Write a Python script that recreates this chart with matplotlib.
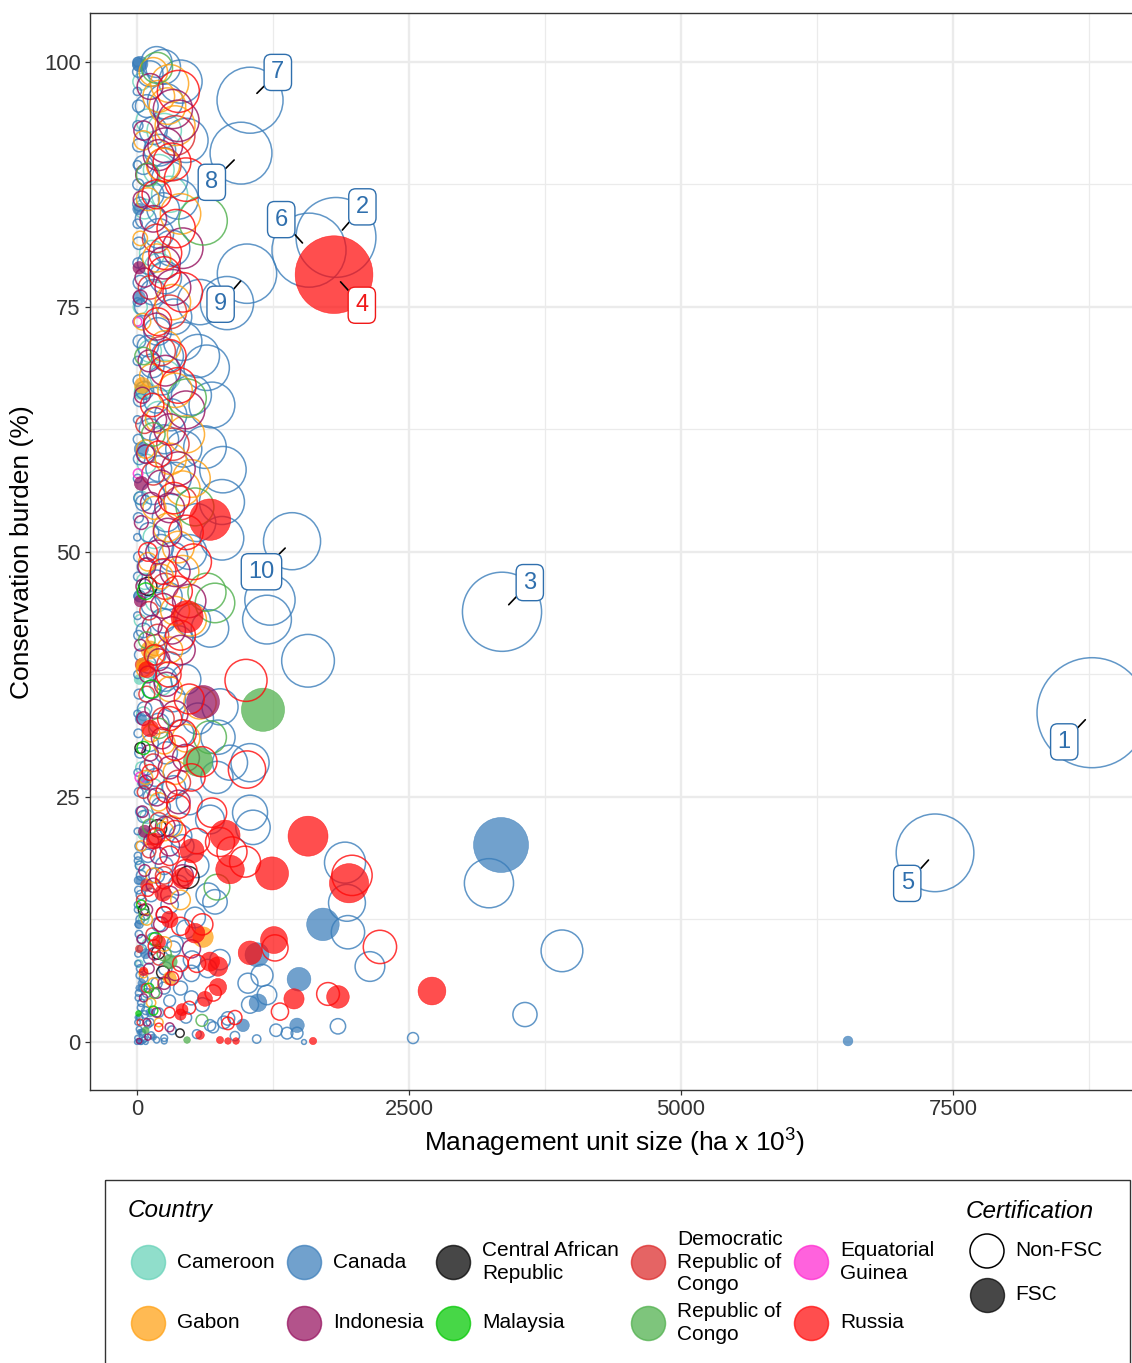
import numpy as np
import matplotlib.pyplot as plt
from matplotlib.patches import Rectangle

plt.rcParams['font.family'] = ['Liberation Sans', 'DejaVu Sans']
plt.rcParams['mathtext.fontset'] = 'custom'
plt.rcParams['mathtext.rm'] = 'Liberation Sans'

# Each management unit: (unit size in 10^3 ha, conservation burden %, FSC certified 0/1)
cameroon = [
    (40, 98.0, 0), (100, 94.0, 0), (200, 89.0, 0), (70, 85.0, 0), (140, 80.5, 0), (30, 75.0, 0),
    (120, 70.5, 0), (60, 66.5, 0), (200, 64.0, 0), (90, 59.0, 0), (40, 55.5, 0), (160, 51.5, 0),
    (70, 47.0, 0), (30, 43.0, 0), (110, 38.0, 0), (60, 33.5, 0), (40, 28.0, 0), (90, 23.0, 0),
    (30, 18.0, 0), (60, 12.5, 0), (20, 8.0, 0), (100, 4.0, 0), (40, 1.0, 0),
    (250, 93.0, 0), (300, 86.5, 0), (200, 79.0, 0), (260, 68.0, 0), (180, 45.0, 0), (220, 36.5, 0),
    (150, 26.0, 0), (100, 10.0, 0),
    (60, 21.2, 1), (40, 66.3, 1), (20, 37.0, 1),
]

canada = [
    (8778, 33.6, 0), (1829, 82.1, 0), (3355, 43.9, 0), (7335, 19.3, 0), (1581, 80.8, 0),
    (1039, 96.1, 0), (956, 90.7, 0), (1011, 78.4, 0), (1425, 51.1, 0),
    (579, 75.5, 0), (827, 75.4, 0), (560, 70.0, 0), (640, 68.8, 0), (689, 65.0, 0), (625, 60.7, 0),
    (790, 58.4, 0), (781, 55.1, 0), (781, 51.4, 0), (1222, 45.1, 0), (1195, 43.1, 0), (1572, 38.9, 0),
    (671, 42.2, 0), (763, 34.2, 0), (735, 27.0, 0), (855, 28.5, 0), (1039, 28.5, 0), (744, 31.1, 0),
    (671, 22.7, 0), (1039, 23.4, 0), (1066, 21.9, 0), (1912, 18.3, 0), (1930, 14.2, 0), (1939, 11.2, 0),
    (2141, 7.7, 0), (3235, 16.2, 0), (3906, 9.3, 0), (3566, 2.8, 0), (2537, 0.4, 0), (1847, 1.6, 0),
    (533, 12.7, 0), (653, 15.0, 0), (717, 14.3, 0), (506, 8.4, 0), (763, 8.4, 0), (1020, 6.0, 0),
    (1195, 4.8, 0), (1149, 6.8, 0), (1379, 0.9, 0), (1471, 0.9, 0), (1278, 1.2, 0), (1535, 0.0, 0),
    (836, 2.4, 0), (671, 1.7, 0), (1039, 3.8, 0),
    (180, 100, 0), (240, 99.5, 0), (120, 98.8, 0), (260, 96.0, 0), (90, 95.5, 0), (150, 93.0, 0),
    (210, 91.0, 0), (60, 89.5, 0), (300, 88.0, 0), (130, 86.5, 0), (240, 85.0, 0), (80, 84.0, 0),
    (200, 82.5, 0), (320, 81.0, 0), (110, 79.5, 0), (260, 78.0, 0), (150, 76.5, 0), (60, 75.0, 0),
    (340, 74.0, 0), (190, 72.5, 0), (100, 71.0, 0), (280, 70.0, 0), (140, 69.0, 0), (230, 67.5, 0),
    (70, 66.5, 0), (180, 65.5, 0), (310, 64.0, 0), (120, 62.5, 0), (250, 61.5, 0), (90, 60.0, 0),
    (200, 58.5, 0), (350, 57.5, 0), (150, 56.0, 0), (60, 55.0, 0), (270, 53.5, 0), (110, 52.0, 0),
    (220, 50.5, 0), (330, 49.5, 0), (80, 48.5, 0), (180, 47.0, 0), (290, 45.5, 0), (130, 44.5, 0),
    (240, 43.0, 0), (60, 42.0, 0), (380, 41.0, 0), (170, 39.5, 0), (100, 38.5, 0), (260, 37.0, 0),
    (140, 36.0, 0), (330, 35.0, 0), (70, 34.0, 0), (200, 32.5, 0), (400, 31.5, 0), (120, 30.5, 0),
    (270, 29.5, 0), (90, 28.0, 0), (170, 27.0, 0), (340, 26.0, 0), (130, 25.0, 0), (220, 24.0, 0),
    (60, 23.0, 0), (300, 22.0, 0), (160, 21.0, 0), (420, 20.0, 0), (100, 19.0, 0), (250, 18.0, 0),
    (180, 17.0, 0), (380, 16.0, 0), (130, 15.0, 0), (300, 14.0, 0), (70, 13.0, 0), (200, 12.0, 0),
    (450, 11.5, 0), (150, 10.5, 0), (330, 9.5, 0), (110, 8.5, 0), (260, 7.5, 0), (500, 7.0, 0),
    (180, 6.0, 0), (400, 5.5, 0), (90, 5.0, 0), (300, 4.2, 0), (600, 3.8, 0), (200, 3.0, 0),
    (450, 2.5, 0), (120, 2.0, 0), (700, 1.5, 0), (320, 1.2, 0), (550, 0.8, 0), (900, 0.6, 0),
    (250, 0.4, 0), (1100, 0.3, 0), (60, 0.2, 0),
    (400, 98.0, 0), (450, 92.0, 0), (380, 86.0, 0), (420, 71.5, 0), (500, 66.0, 0), (430, 60.5, 0),
    (550, 53.0, 0), (480, 50.0, 0), (520, 43.0, 0), (450, 37.0, 0), (560, 33.0, 0), (480, 24.5, 0),
    (400, 21.0, 0), (550, 18.0, 0), (350, 10.0, 0), (650, 7.5, 0), (250, 5.5, 0), (500, 4.5, 0),
    (800, 2.0, 0),
    (5, 100, 0), (10, 99, 0), (3, 97, 0), (15, 95.5, 0), (8, 93.5, 0), (20, 91.5, 0), (4, 89.5, 0),
    (12, 87.5, 0), (25, 85.5, 0), (6, 83.5, 0), (18, 81.5, 0), (9, 79.5, 0), (30, 77.5, 0),
    (5, 75.5, 0), (14, 73.5, 0), (22, 71.5, 0), (7, 69.5, 0), (16, 67.5, 0), (28, 65.5, 0),
    (4, 63.5, 0), (11, 61.5, 0), (20, 59.5, 0), (6, 57.5, 0), (26, 55.5, 0), (13, 53.5, 0),
    (3, 51.5, 0), (17, 49.5, 0), (9, 47.5, 0), (24, 45.5, 0), (5, 43.5, 0), (15, 41.5, 0),
    (30, 39.5, 0), (8, 37.5, 0), (19, 35.5, 0), (4, 33.5, 0), (12, 31.5, 0), (27, 29.5, 0),
    (7, 27.5, 0), (16, 25.5, 0), (35, 23.5, 0), (5, 21.5, 0), (22, 20.0, 0), (10, 18.5, 0),
    (40, 17.0, 0), (14, 15.5, 0), (6, 14.0, 0), (30, 12.5, 0), (18, 11.0, 0), (45, 9.5, 0),
    (8, 8.0, 0), (25, 6.8, 0), (55, 5.5, 0), (12, 4.5, 0), (35, 3.5, 0), (70, 2.8, 0), (5, 2.0, 0),
    (20, 1.3, 0), (50, 0.8, 0), (3, 0.4, 0), (15, 0.1, 0), (40, 0, 0), (80, 0, 0), (0, 0, 0),
    (8, 19, 0), (25, 18, 0), (12, 16.5, 0), (35, 15, 0), (6, 13.5, 0), (20, 12, 0), (45, 10.5, 0),
    (10, 9, 0), (30, 7.5, 0), (60, 6.5, 0), (15, 5, 0), (40, 4, 0), (80, 3.2, 0), (25, 2.5, 0),
    (100, 1.8, 0), (50, 1.0, 0), (130, 0.7, 0), (70, 0.3, 0), (180, 0.2, 0), (30, 0.0, 0), (250, 0.1, 0),
    (3346, 20.1, 1), (1709, 12.0, 1), (1489, 6.4, 1), (1471, 1.7, 1), (1112, 4.0, 1), (974, 1.7, 1),
    (6535, 0.1, 1), (1103, 8.9, 1), (20, 99.7, 1), (30, 99.8, 1), (15, 85, 1), (20, 76, 1),
    (40, 60.5, 1), (60, 26.5, 1), (30, 16.5, 1), (80, 9, 1), (45, 6, 1), (120, 3, 1), (25, 1.0, 1),
    (150, 0.5, 1), (10, 45.5, 1), (35, 33, 1), (10, 12, 1), (20, 5.5, 1), (5, 2.5, 1),
]

car = [
    (469, 16.8, 0), (395, 0.9, 0), (193, 21.8, 0), (193, 9.1, 0), (239, 7.1, 0), (60, 13.5, 0),
    (100, 46.5, 0), (30, 30.0, 0),
]

drc = [
    (250, 89.5, 0), (180, 82.0, 0), (120, 77.0, 0), (220, 70.5, 0), (70, 63.0, 0), (150, 58.0, 0),
    (260, 46.5, 0), (110, 44.0, 0), (190, 41.5, 0), (90, 35.5, 0), (240, 33.0, 0), (150, 28.5, 0),
    (60, 25.5, 0), (200, 22.5, 0), (110, 19.5, 0), (40, 14.5, 0), (140, 11.0, 0), (80, 5.5, 0),
    (30, 2.0, 0), (350, 92.5, 0), (300, 74.5, 0), (330, 61.0, 0), (400, 55.0, 0), (300, 38.5, 0),
    (380, 26.5, 0), (250, 17.0, 0), (200, 8.5, 0),
    (40, 38.5, 1), (90, 16.0, 1), (20, 9.5, 1),
]

eq_guinea = [(10, 58.0, 0), (30, 27.0, 0), (5, 73.5, 0)]

gabon = [
    (150, 99.0, 0), (200, 96.5, 0), (280, 95.5, 0), (60, 92.0, 0), (240, 89.5, 0), (100, 86.0, 0),
    (30, 82.0, 0), (180, 80.0, 0), (50, 73.5, 0), (260, 71.0, 0), (130, 68.0, 0), (350, 66.5, 0),
    (200, 63.5, 0), (80, 60.5, 0), (310, 59.5, 0), (420, 56.5, 0), (160, 54.5, 0), (280, 52.5, 0),
    (380, 50.5, 0), (100, 49.0, 0), (220, 47.5, 0), (487, 43.1, 0), (170, 40.5, 0), (60, 38.0, 0),
    (300, 36.0, 0), (579, 34.6, 0), (130, 31.5, 0), (250, 30.5, 0), (80, 27.0, 0), (200, 24.5, 0),
    (320, 22.0, 0), (40, 20.0, 0), (150, 17.0, 0), (90, 12.5, 0), (250, 10.0, 0), (60, 7.0, 0),
    (130, 4.0, 0), (200, 2.0, 0),
    (300, 97.8, 0), (350, 93.5, 0), (400, 84.5, 0), (330, 75.5, 0), (450, 62.0, 0), (500, 57.5, 0),
    (420, 48.0, 0), (350, 44.0, 0), (300, 40.0, 0), (450, 31.0, 0), (350, 27.5, 0), (250, 21.5, 0),
    (400, 14.5, 0), (150, 6.0, 0),
    (607, 10.7, 1), (60, 38.5, 1), (300, 6.5, 1), (120, 40.0, 1), (50, 67.0, 1),
]

indonesia = [
    (330, 95.2, 0), (120, 97.5, 0), (60, 93.0, 0), (200, 90.5, 0), (90, 88.5, 0), (40, 86.0, 0),
    (150, 84.0, 0), (250, 79.5, 0), (70, 78.0, 0), (30, 76.0, 0), (180, 73.0, 0), (110, 69.5, 0),
    (260, 68.5, 0), (50, 66.0, 0), (160, 63.5, 0), (300, 62.5, 0), (80, 60.0, 0), (220, 57.0, 0),
    (130, 55.0, 0), (40, 53.0, 0), (280, 52.0, 0), (190, 50.0, 0), (90, 48.5, 0), (350, 48.0, 0),
    (60, 46.5, 0), (240, 44.5, 0), (140, 42.5, 0), (320, 42.0, 0), (30, 40.5, 0), (200, 39.0, 0),
    (100, 37.5, 0), (270, 36.5, 0), (160, 34.0, 0), (60, 33.0, 0), (230, 31.0, 0), (120, 29.5, 0),
    (300, 28.0, 0), (80, 26.5, 0), (180, 25.0, 0), (50, 23.5, 0), (260, 22.0, 0), (130, 20.5, 0),
    (200, 19.0, 0), (70, 17.5, 0), (150, 16.0, 0), (300, 15.0, 0), (90, 13.5, 0), (220, 12.0, 0),
    (40, 10.5, 0), (160, 9.0, 0), (110, 7.5, 0), (250, 6.0, 0), (60, 4.5, 0), (180, 3.0, 0),
    (300, 1.5, 0), (100, 0.5, 0), (20, 0.1, 0),
    (380, 94.0, 0), (260, 91.5, 0), (420, 81.0, 0), (330, 77.0, 0), (450, 64.5, 0), (380, 58.5, 0),
    (300, 54.5, 0), (480, 45.0, 0), (400, 40.0, 0), (350, 33.5, 0), (450, 29.0, 0), (380, 24.5, 0),
    (300, 20.0, 0), (420, 17.0, 0), (250, 13.0, 0), (500, 9.5, 0), (350, 7.0, 0), (180, 5.0, 0),
    (90, 2.0, 0),
    (607, 34.7, 1), (20, 79.0, 1), (30, 45.0, 1), (70, 21.5, 1), (40, 57.0, 1),
]

malaysia = [
    (80, 46.0, 0), (130, 36.0, 0), (170, 10.5, 0), (60, 30.0, 0), (110, 5.5, 0), (150, 3.2, 0),
    (40, 14.0, 0),
    (10, 3.0, 1),
]

roc = [
    (607, 83.8, 0), (460, 65.7, 0), (533, 54.6, 0), (643, 45.9, 0), (717, 44.8, 0), (671, 31.1, 0),
    (735, 15.8, 0), (597, 2.2, 0), (184, 99.4, 0), (100, 88.5, 0), (60, 70.0, 0), (150, 62.0, 0),
    (90, 41.0, 0), (200, 32.0, 0), (120, 22.0, 0), (70, 13.0, 0), (250, 9.0, 0), (160, 5.0, 0),
    (1158, 33.9, 1), (561, 28.6, 1), (460, 0.2, 1), (303, 8.2, 1), (80, 1.2, 1),
]

russia = [
    (1002, 36.9, 0), (597, 28.6, 0), (1011, 27.8, 0), (689, 23.4, 0), (763, 20.4, 0), (873, 19.4, 0),
    (993, 18.4, 0), (1976, 17.0, 0), (2233, 9.7, 0), (1756, 4.9, 0), (1268, 9.6, 0), (1314, 3.1, 0),
    (836, 1.9, 0), (322, 89.8, 0), (250, 78.5, 0), (180, 86.5, 0), (260, 80.5, 0), (190, 73.5, 0),
    (300, 70.0, 0), (140, 65.0, 0), (200, 60.0, 0), (340, 55.5, 0), (100, 50.0, 0), (240, 48.0, 0),
    (370, 46.0, 0), (160, 39.5, 0), (290, 37.5, 0), (420, 31.5, 0), (350, 30.0, 0), (120, 27.5, 0),
    (270, 25.5, 0), (380, 24.0, 0), (180, 21.0, 0), (300, 19.0, 0), (450, 17.5, 0), (100, 15.5, 0),
    (250, 13.0, 0), (400, 11.8, 0), (160, 9.8, 0), (550, 8.0, 0), (320, 6.5, 0), (700, 5.0, 0),
    (480, 3.5, 0), (900, 2.5, 0), (200, 1.5, 0),
    (380, 97.0, 0), (450, 88.0, 0), (360, 83.0, 0), (420, 76.5, 0), (380, 67.0, 0), (450, 52.0, 0),
    (520, 49.0, 0), (400, 41.5, 0), (480, 35.0, 0), (300, 33.0, 0), (500, 27.0, 0), (350, 21.5, 0),
    (550, 20.5, 0), (250, 16.5, 0), (600, 12.0, 0), (400, 8.0, 0), (300, 3.0, 0),
    (1811, 78.3, 1), (671, 53.3, 1), (460, 43.4, 1), (1572, 21.0, 1), (1949, 16.2, 1), (1241, 17.2, 1),
    (809, 21.1, 1), (855, 17.6, 1), (506, 19.5, 1), (423, 16.7, 1), (533, 11.1, 1), (671, 8.2, 1),
    (744, 7.7, 1), (744, 5.6, 1), (625, 4.4, 1), (1039, 9.1, 1), (1259, 10.4, 1), (1847, 4.6, 1),
    (2711, 5.2, 1), (1443, 4.4, 1), (1618, 0.1, 1), (414, 3.3, 1), (763, 0.2, 1), (836, 0.1, 1),
    (910, 0.1, 1), (579, 0.7, 1), (120, 32.0, 1), (239, 15.2, 1), (160, 20.5, 1), (300, 12.5, 1),
    (90, 38.0, 1), (200, 10.2, 1), (60, 7.2, 1), (400, 2.8, 1),
]

country_labels = ['Cameroon', 'Canada', 'Central African\nRepublic', 'Democratic\nRepublic of\nCongo',
                  'Equatorial\nGuinea', 'Gabon', 'Indonesia', 'Malaysia', 'Republic of\nCongo', 'Russia']
country_units = [cameroon, canada, car, drc, eq_guinea, gabon, indonesia, malaysia, roc, russia]
country_colours = ['#66D2B8', '#3A7DBA', '#000000', '#DC2828', '#FF26D0',
                   '#FFA010', '#96105E', '#00C800', '#4DAF4A', '#FF0A0A']
label_text_colours = {'Canada': '#2F6FAD', 'Russia': '#F01818'}

# ggrepel-style label offsets (points) for the ten largest conservation areas
rank_offsets = [(-20, -21), (19, 22), (20, 21), (20, -22), (-20, -22),
                (-20, 22), (20, 20), (-21, -21), (-19, -22), (-22, -22)]

W, H = 1132, 1363
ALPHA = 0.72


def conserved_area(units):
    u = np.asarray(units, dtype=float)
    return u[:, 0] * u[:, 1] / 100.0


all_area = np.concatenate([conserved_area(u) for u in country_units])
AREA_MAX = all_area.max()


def marker_s(area):
    # size scale like scale_size(): radius grows with sqrt of area
    r_px = 2.4 + 52.6 * np.sqrt(np.asarray(area) / AREA_MAX)
    return (2 * r_px * 0.72) ** 2


fig = plt.figure(figsize=(W / 100, H / 100), dpi=100)
ax = fig.add_axes([90 / W, 1 - 1090 / H, (1145 - 90) / W, (1090 - 13) / H])
ax.set_xlim(-432, 9265)
ax.set_ylim(-4.9, 105.0)

ax.set_xticks([0, 2500, 5000, 7500])
ax.set_yticks([0, 25, 50, 75, 100])
ax.set_xticks([1250, 3750, 6250, 8750], minor=True)
ax.set_yticks([12.5, 37.5, 62.5, 87.5], minor=True)
ax.grid(True, which='major', color='#EBEBEB', lw=1.7)
ax.grid(True, which='minor', color='#EBEBEB', lw=0.9)
ax.set_axisbelow(True)
ax.tick_params(which='major', length=3.6, width=0.9, color='#333333',
               labelsize=15.8, labelcolor='#333333', pad=3)
ax.tick_params(which='minor', length=0)
for side in ['left', 'top', 'bottom']:
    ax.spines[side].set_color('#333333')
    ax.spines[side].set_linewidth(1.0)
ax.spines['right'].set_visible(False)

for units, colour in zip(country_units, country_colours):
    u = np.asarray(units, dtype=float)
    area = conserved_area(units)
    open_ = u[:, 2] == 0
    ax.scatter(u[open_, 0], u[open_, 1], s=marker_s(area[open_]), facecolors='none',
               edgecolors=colour, linewidths=1.1, alpha=0.8, zorder=3)
    ax.scatter(u[~open_, 0], u[~open_, 1], s=marker_s(area[~open_]), facecolors=colour,
               edgecolors=colour, linewidths=0.4, alpha=ALPHA, zorder=3)

# label the ten largest conservation areas
records = []
for name, units, colour in zip(country_labels, country_units, country_colours):
    for (x, y, f), a in zip(units, conserved_area(units)):
        records.append((a, x, y, name, colour))
records.sort(key=lambda r: -r[0])
for rank, (a, x, y, name, colour) in enumerate(records[:10], start=1):
    tcol = label_text_colours.get(name, colour)
    ax.annotate(str(rank), xy=(x, y), xytext=rank_offsets[rank - 1], textcoords='offset points',
                ha='center', va='center', fontsize=17, color=tcol, zorder=5,
                bbox=dict(boxstyle='round,pad=0.3,rounding_size=0.3', fc='white', ec=tcol, lw=1.0),
                arrowprops=dict(arrowstyle='-', color='black', lw=1.2, shrinkA=0, shrinkB=7))

fig.text(615 / W, 1 - 1142 / H, r'Management unit size (ha x 10$^{3}$)', ha='center', va='center',
         fontsize=19)
fig.text(22 / W, 1 - 552 / H, 'Conservation burden (%)', ha='center', va='center', rotation=90,
         fontsize=19)

# legend panel
lg = fig.add_axes([0, 0, 1, 1])
lg.set_xlim(0, W)
lg.set_ylim(H, 0)
lg.axis('off')
lg.add_patch(Rectangle((105, 1180), 1025, 220, fill=False, ec='#333333', lw=1.0))
lg.text(128, 1211, 'Country', style='italic', fontsize=17.5, ha='left', va='center')
lg.text(966, 1211, 'Certification', style='italic', fontsize=17.5, ha='left', va='center')

key_x = [148, 304, 453, 648, 811]
key_y = [1262, 1323]
key_s = (34 * 0.72) ** 2
for i, (name, colour) in enumerate(zip(country_labels, country_colours)):
    kx, ky = key_x[i % 5], key_y[i // 5]
    lg.scatter([kx], [ky], s=key_s, facecolors=colour, edgecolors=colour, linewidths=1.1, alpha=ALPHA)
    lg.text(kx + 29, ky, name, fontsize=15, ha='left', va='center', linespacing=1.22)

lg.scatter([987], [1251], s=key_s, facecolors='none', edgecolors='black', linewidths=1.1)
lg.scatter([987], [1295], s=key_s, facecolors='black', edgecolors='black', alpha=ALPHA)
lg.text(1015, 1251, 'Non-FSC', fontsize=15, ha='left', va='center')
lg.text(1015, 1295, 'FSC', fontsize=15, ha='left', va='center')

fig.savefig('out.png', dpi=100)
